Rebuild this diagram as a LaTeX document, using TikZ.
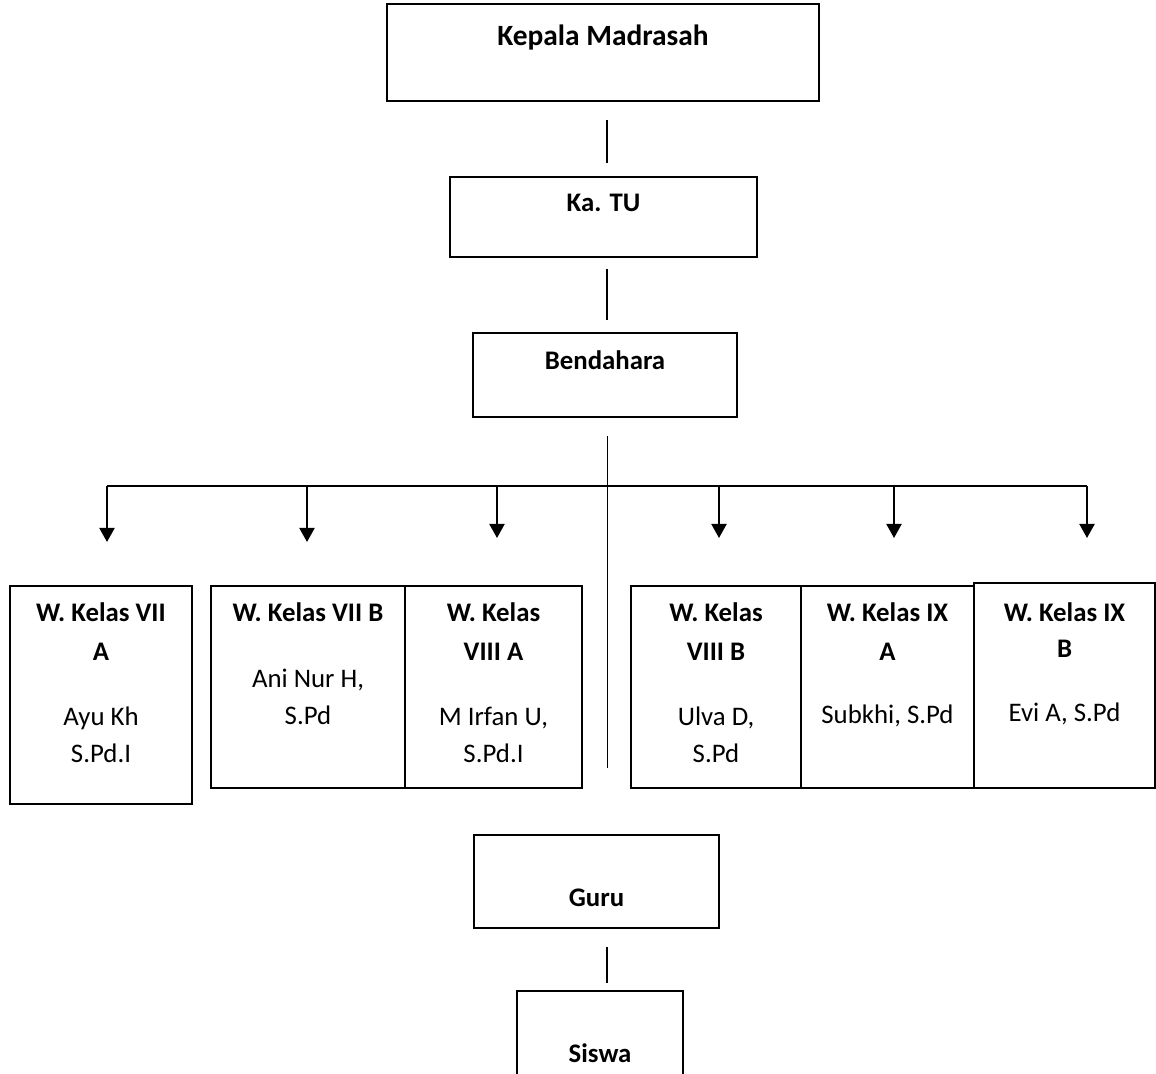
\documentclass[tikz,border=0pt]{standalone}
\usepackage{fontspec}
\setmainfont{Carlito}
\usetikzlibrary{arrows.meta}
\newcommand{\celltext}[4]{\parbox[c][#2][t]{#1}{\centering\rule{0pt}{#3}#4}}

\begin{document}
\begin{tikzpicture}[x=0.5pt,y=-0.5pt,font=\fontsize{13.4pt}{18.5pt}\selectfont,
    box/.style={draw,line width=1pt,inner sep=0pt},
    link/.style={line width=0.65pt},
    arr/.style={line width=1pt,-{Triangle[width=7.5pt,length=7pt]}}]
    \useasboundingbox (0,0) rectangle (1156,1074);
    \clip (0,0) rectangle (1156,1074);
    \coordinate (axis) at (607,0);
    \coordinate (bar) at (607,486);
    \coordinate (stem) at (607,768);
    \node (kepala) [box] at (603,52.5) {\celltext{216pt}{48.5pt}{21pt}{\fontsize{14.7pt}{18pt}\selectfont\textbf{Kepala Madrasah}}};
    \node (katu) [box] at (603.5,217) {\celltext{153.5pt}{40pt}{17.5pt}{\textbf{Ka. TU}}};
    \node (bendahara) [box] at (605,375) {\celltext{132pt}{42pt}{18.5pt}{\textbf{Bendahara}}};
    \node (w7a) [box] at (101,695) {\celltext{91pt}{109pt}{17.5pt}{\textbf{W. Kelas VII\\[1pt]A}\\[14pt]Ayu Kh\\S.Pd.I}};
    \node (w7b) [box] at (308,687) {\celltext{97pt}{101pt}{17.5pt}{\textbf{W. Kelas VII B}\\[14.5pt]Ani Nur H,\\S.Pd}};
    \node (w8a) [box] at (493.5,687) {\celltext{88.5pt}{101pt}{17.5pt}{\textbf{W. Kelas\\[1pt]VIII A}\\[14pt]M Irfan U,\\S.Pd.I}};
    \node (w8b) [box] at (716,687) {\celltext{85pt}{101pt}{17.5pt}{\textbf{W. Kelas\\[1pt]VIII B}\\[14pt]Ulva D,\\S.Pd}};
    \node (w9a) [box] at (887.5,687) {\celltext{86.5pt}{101pt}{17.5pt}{\textbf{W. Kelas IX\\[1pt]A}\\[13pt]Subkhi, S.Pd}};
    \node (w9b) [box] at (1064.5,685.5) {\celltext{90.5pt}{102.5pt}{19pt}{\textbf{W. Kelas IX\\[-0.5pt]B}\\[13.5pt]Evi A, S.Pd}};
    \node (guru) [box] at (596.5,881.5) {\celltext{122.5pt}{46.5pt}{35.5pt}{\textbf{Guru}}};
    \node (siswa) [box] at (600,1041) {\celltext{83pt}{50pt}{35.5pt}{\textbf{Siswa}}};
    \draw[link,shorten <=9pt,shorten >=6.5pt] (kepala.south -| axis) -- (katu.north -| axis);
    \draw[link,shorten <=5.5pt,shorten >=6pt] (katu.south -| axis) -- (bendahara.north -| axis);
    \draw[line width=0.5pt,shorten <=9pt] (bendahara.south -| axis) -- (stem);
    \draw[line width=1pt] (bar -| 107,0) -- (bar -| 1087,0);
    \foreach \x/\n/\s in {107/w7a/21.5pt,307/w7b/21.5pt,497/w8a/23.5pt,719/w8b/23.5pt,894/w9a/23.5pt,1087/w9b/22pt}
      \draw[arr,shorten >=\s] (\x,0 |- bar) -- (\x,0 |- \n.north);
    \draw[link,shorten <=9pt,shorten >=3.5pt] (guru.south -| axis) -- (siswa.north -| axis);
\end{tikzpicture}
\end{document}
